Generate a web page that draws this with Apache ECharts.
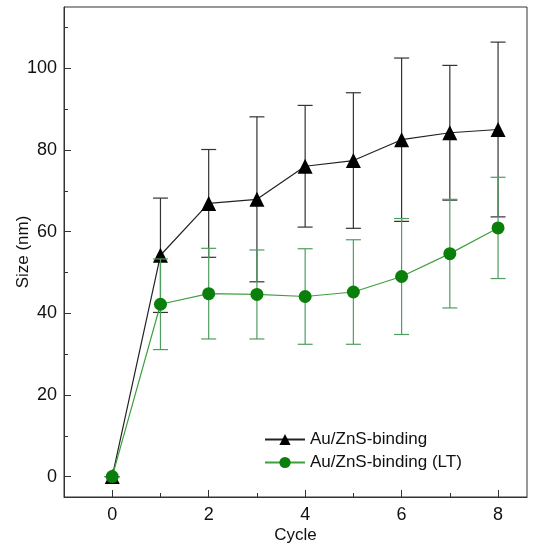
<!DOCTYPE html>
<html><head><meta charset="utf-8">
<script src="https://cdn.jsdelivr.net/npm/echarts@6/dist/echarts.min.js"></script>
<style>html,body{margin:0;padding:0;background:#fff}#c{width:537px;height:548px}</style>
</head><body><div id="c"></div>
<script>
var cycles = [0, 1, 2, 3, 4, 5, 6, 7, 8];
var blackMean = [0, 54.2, 66.9, 67.9, 76.0, 77.4, 82.5, 84.2, 85.0];
var blackErr  = [0, 14.0, 13.2, 20.2, 14.9, 16.6, 20.0, 16.5, 21.4];
var greenMean = [0, 42.2, 44.8, 44.6, 44.1, 45.2, 49.0, 54.6, 60.9];
var greenErr  = [0, 11.1, 11.1, 10.9, 11.7, 12.8, 14.2, 13.3, 12.4];
var xMajorTicks = [0, 2, 4, 6, 8];
var xMinorTicks = [1, 3, 5, 7];
var yMajorTicks = [0, 20, 40, 60, 80, 100];
var yMinorTicks = [10, 30, 50, 70, 90, 110];
var seriesNames = ['Au/ZnS-binding', 'Au/ZnS-binding (LT)'];

var FONT = 'Liberation Sans, Arial, sans-serif';
function pts(m){ return cycles.map(function(c,i){return [c, m[i]];}); }
function errs(m,e){ return cycles.map(function(c,i){return [c, m[i]-e[i], m[i]+e[i]];}); }
function errRender(color){
  return function(params, api){
    var x = api.value(0);
    var lo = api.coord([x, api.value(1)]);
    var hi = api.coord([x, api.value(2)]);
    var hw = 7.5;
    var st = {stroke: color, lineWidth: 1.2};
    return {type:'group', children:[
      {type:'line', shape:{x1:hi[0], y1:hi[1], x2:lo[0], y2:lo[1]}, style:st},
      {type:'line', shape:{x1:hi[0]-hw, y1:hi[1], x2:hi[0]+hw, y2:hi[1]}, style:st},
      {type:'line', shape:{x1:lo[0]-hw, y1:lo[1], x2:lo[0]+hw, y2:lo[1]}, style:st}
    ]};
  };
}
var axCol = '#333';
var chart = echarts.init(document.getElementById('c'));
chart.setOption({
  animation:false,
  grid:{left:64, right:10, top:7, bottom:51, show:true, borderColor:axCol, borderWidth:1, containLabel:false, outerBoundsMode:'none'},
  legend:{
    orient:'vertical', left:259, top:426, itemWidth:40, itemHeight:14, itemGap:6,
    data:seriesNames,
    textStyle:{fontFamily:FONT, fontSize:17, color:'#111'}
  },
  xAxis:[{
    type:'value', min:-1, max:8.6, position:'bottom',
    name:'Cycle', nameLocation:'middle', nameGap:30, nameMoveOverlap:false,
    nameTextStyle:{fontFamily:FONT, fontSize:17, color:'#111'},
    axisLine:{show:true, onZero:false, lineStyle:{color:axCol}},
    axisTick:{show:true, inside:true, length:7, customValues:xMajorTicks, lineStyle:{color:axCol}},
    axisLabel:{customValues:xMajorTicks, margin:9, fontFamily:FONT, fontSize:18, color:'#111'},
    splitLine:{show:false}
  },{
    type:'value', min:-1, max:8.6, position:'bottom',
    axisLine:{show:false, onZero:false},
    axisTick:{show:true, inside:true, length:4, customValues:xMinorTicks, lineStyle:{color:axCol}},
    axisLabel:{show:false, customValues:xMinorTicks},
    splitLine:{show:false}
  }],
  yAxis:[{
    type:'value', min:-5, max:115, position:'left',
    name:'Size (nm)', nameLocation:'middle', nameGap:32, nameMoveOverlap:false,
    nameTextStyle:{fontFamily:FONT, fontSize:17, color:'#111'},
    axisLine:{show:true, onZero:false, lineStyle:{color:axCol}},
    axisTick:{show:true, inside:true, length:7, customValues:yMajorTicks, lineStyle:{color:axCol}},
    axisLabel:{customValues:yMajorTicks, margin:7, fontFamily:FONT, fontSize:18, color:'#111'},
    splitLine:{show:false}
  },{
    type:'value', min:-5, max:115, position:'left',
    axisLine:{show:false, onZero:false},
    axisTick:{show:true, inside:true, length:4, customValues:yMinorTicks, lineStyle:{color:axCol}},
    axisLabel:{show:false, customValues:yMinorTicks},
    splitLine:{show:false}
  }],
  series:[
    {type:'custom', name:'errBlack', xAxisIndex:0, yAxisIndex:0, renderItem:errRender('#333'), data:errs(blackMean, blackErr), z:2, silent:true},
    {type:'line', name:seriesNames[0], data:pts(blackMean), symbol:'triangle', symbolSize:15,
      itemStyle:{color:'#000'}, lineStyle:{color:'#222', width:1.2}, z:3},
    {type:'custom', name:'errGreen', xAxisIndex:0, yAxisIndex:0, renderItem:errRender('#4f9d62'), data:errs(greenMean, greenErr), z:4, silent:true},
    {type:'line', name:seriesNames[1], data:pts(greenMean), symbol:'circle', symbolSize:13,
      itemStyle:{color:'#0b7f0b'}, lineStyle:{color:'#3f9f3f', width:1.2}, z:5}
  ]
});
</script></body></html>
